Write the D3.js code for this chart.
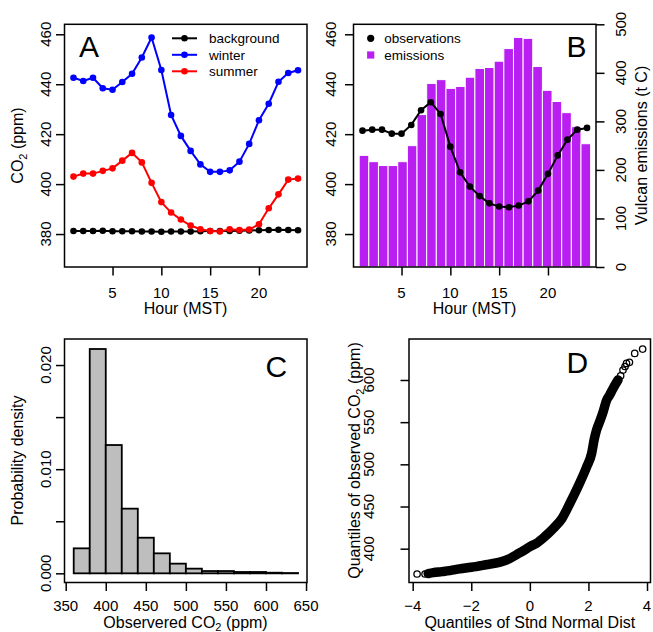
<!DOCTYPE html>
<html lang="en">
<head>
<meta charset="UTF-8">
<title>CO2 diurnal cycle panels</title>
<script src="https://d3js.org/d3.v7.min.js"></script>
<style>
  body { margin: 0; background: #fff; }
  svg text { font-family: "Liberation Sans", Arial, Helvetica, sans-serif; fill: #000; }
  .tick line { stroke: #000; stroke-width: 1.5; }
  .domain { display: none; }
</style>
</head>
<body>
<svg id="chart" width="653" height="632"></svg>
<script>
// ---- data ----
const hours = [1, 2, 3, 4, 5, 6, 7, 8, 9, 10, 11, 12, 13, 14, 15, 16, 17, 18, 19, 20, 21, 22, 23, 24];

// panel A, mean CO2 (ppm)
const background = [381.2, 381.2, 381.2, 381.3, 381.1, 381.1, 381.1, 381.0, 381.0, 380.9, 381.0, 381.0,
                    381.0, 381.1, 381.2, 381.2, 381.2, 381.3, 381.4, 381.5, 381.6, 381.7, 381.6, 381.5];
const winter = [442.6, 441.3, 442.6, 438.4, 437.8, 440.9, 444.2, 450.7, 458.7, 445.7, 427.7, 419.3,
                413.3, 407.9, 404.9, 404.9, 405.5, 409.0, 416.1, 425.6, 432.2, 441.0, 444.5, 445.6];
const summer = [403.0, 404.2, 404.2, 405.3, 406.3, 409.4, 412.5, 408.7, 400.5, 392.8, 388.6, 385.8,
                383.4, 381.9, 381.2, 381.0, 381.9, 381.6, 381.8, 383.9, 390.3, 395.9, 401.8, 402.2];

// panel B
const observations = [421.4, 421.8, 421.8, 420.2, 420.2, 423.7, 429.6, 432.8, 428.1, 415.0, 404.7, 399.0,
                      395.2, 392.3, 391.0, 390.7, 391.4, 393.1, 397.4, 404.1, 411.5, 417.8, 421.8, 422.5];
const emissions = [230, 217, 209, 209, 217, 250, 314, 378, 386, 368, 372, 391,
                   409, 411, 424, 450, 473, 471, 413, 364, 341, 318, 289, 254];

// panel C, histogram (bin edges and density)
const binStarts = [360, 380, 400, 420, 440, 460, 480, 500, 520, 540, 560, 580, 600, 620];
const binWidth = 20;
const density = [0.0024, 0.02154, 0.01232, 0.00621, 0.00342, 0.00192, 0.00093,
                 0.00045, 0.00022, 0.00022, 0.00013, 0.00013, 0.00006, 0.00003];

// panel D, normal Q-Q: dense part of the curve and the isolated tail points
const qqTheo = [-3.47, -3.3, -3.0, -2.73, -2.4, -2.0, -1.5, -1.02, -0.7, -0.45, -0.2, 0.0, 0.23, 0.5,
                0.8, 1.1, 1.37, 1.65, 1.94, 2.11, 2.2, 2.28, 2.4, 2.5, 2.62, 2.72, 2.84, 3.01];
const qqObs = [370.5, 371.6, 372.8, 374.0, 376.0, 378.0, 381.0, 384.0, 388.0, 393.0, 398.0, 402.4, 406.5, 414.0,
               424.0, 436.0, 454.0, 474.0, 497.0, 513.0, 530.0, 541.0, 552.0, 562.0, 576.0, 582.0, 590.0, 600.0];
const tailTheo = [-3.85, -3.58, 3.1, 3.18, 3.25, 3.3, 3.4, 3.58, 3.85];
const tailObs = [370.0, 370.0, 605.0, 611.7, 616.0, 619.7, 621.0, 631.5, 636.6];

const yTicksA = [380, 400, 420, 440, 460];
const hourTicks = [5, 10, 15, 20];
const emisTicks = [0, 100, 200, 300, 400, 500];
const xTicksC = [350, 400, 450, 500, 550, 600, 650];
const yTicksC = [0, 0.005, 0.01, 0.015, 0.02];
const xTicksD = [-4, -2, 0, 2, 4];
const yTicksD = [400, 450, 500, 550, 600];

// ---- drawing ----
const svg = d3.select("#chart");
const TICK = 8.5, FS_TICK = 15, FS_LAB = 16;

function box(x, y) {
    svg.append("rect")
        .attr("x", x.range()[0]).attr("y", y.range()[1])
        .attr("width", x.range()[1] - x.range()[0])
        .attr("height", y.range()[0] - y.range()[1])
        .attr("fill", "none").attr("stroke", "#000").attr("stroke-width", 1.5);
}

function tickMarks(axis, transform) {
    svg.append("g").attr("transform", transform)
        .call(axis.tickSize(TICK).tickFormat(""));
}

function xLabels(x, ticks, yBase, fmt) {
    svg.append("g").selectAll("text").data(ticks).join("text")
        .attr("x", d => x(d)).attr("y", yBase)
        .attr("text-anchor", "middle").attr("font-size", FS_TICK)
        .text(fmt || (d => d));
}

function yLabels(y, ticks, xBase, fmt) {
    svg.append("g").selectAll("text").data(ticks).join("text")
        .attr("transform", d => `translate(${xBase},${y(d)}) rotate(-90)`)
        .attr("text-anchor", "middle").attr("font-size", FS_TICK)
        .text(fmt || (d => d));
}

function vTitle(x, y, parts) {
    const t = svg.append("text")
        .attr("transform", `translate(${x},${y}) rotate(-90)`)
        .attr("text-anchor", "middle").attr("font-size", FS_LAB);
    addParts(t, parts);
}

function hTitle(x, y, parts) {
    const t = svg.append("text").attr("x", x).attr("y", y)
        .attr("text-anchor", "middle").attr("font-size", FS_LAB);
    addParts(t, parts);
}

// parts: array of strings, "_2" means subscript 2
function addParts(t, parts) {
    let shifted = false;
    parts.forEach(p => {
        if (p.startsWith("_")) {
            t.append("tspan").attr("font-size", 11).attr("dy", 3.5).text(p.slice(1));
            shifted = true;
        } else {
            const s = t.append("tspan").text(p);
            if (shifted) { s.attr("dy", -3.5); shifted = false; }
        }
    });
}

function letter(x, y, s) {
    svg.append("text").attr("x", x).attr("y", y).attr("font-size", 30).text(s);
}

function seriesLine(x, y, values, color) {
    const line = d3.line().x((d, i) => x(hours[i])).y(d => y(d));
    svg.append("path").datum(values)
        .attr("fill", "none").attr("stroke", color).attr("stroke-width", 2)
        .attr("d", line);
    svg.append("g").selectAll("circle").data(values).join("circle")
        .attr("cx", (d, i) => x(hours[i])).attr("cy", d => y(d))
        .attr("r", 3.3).attr("fill", color);
}

// Panel A
const xA = d3.scaleLinear().domain([0.08, 24.92]).range([64.5, 307]);
const yA = d3.scaleLinear().domain([366.8, 464.0]).range([267, 24.3]);

seriesLine(xA, yA, background, "#000");
seriesLine(xA, yA, winter, "#0000ff");
seriesLine(xA, yA, summer, "#ff0000");
box(xA, yA);
tickMarks(d3.axisBottom(xA).tickValues(hourTicks), `translate(0,267)`);
tickMarks(d3.axisLeft(yA).tickValues(yTicksA), `translate(64.5,0)`);
xLabels(xA, hourTicks, 298);
yLabels(yA, yTicksA, 50.5);
hTitle(185.5, 313.5, ["Hour (MST)"]);
vTitle(23, 145.5, ["CO", "_2", " (ppm)"]);
letter(79, 57.3, "A");

const legendA = [
    { name: "background", color: "#000" },
    { name: "winter", color: "#0000ff" },
    { name: "summer", color: "#ff0000" }
];
const legA = svg.append("g").selectAll("g").data(legendA).join("g")
    .attr("transform", (d, i) => `translate(172,${38.3 + i * 16.5})`);
legA.append("line").attr("x1", 0).attr("x2", 25).attr("stroke", d => d.color).attr("stroke-width", 2);
legA.append("circle").attr("cx", 12.5).attr("r", 3.3).attr("fill", d => d.color);
legA.append("text").attr("x", 37).attr("y", 4.8).attr("font-size", 13.5).text(d => d.name);

// Panel B
const xB = d3.scaleLinear().domain([0.08, 24.92]).range([353.5, 596]);
const yB = d3.scaleLinear().domain([366.8, 464.0]).range([267, 24.3]);
const yE = d3.scaleLinear().domain([0, 500]).range([267, 24.3]);
const xBar = d3.scaleBand().domain(hours).range([xB(0.66), xB(24.37)]).padding(0);

svg.append("g").selectAll("rect").data(emissions).join("rect")
    .attr("x", (d, i) => xBar(hours[i])).attr("width", xBar.bandwidth())
    .attr("y", d => yE(d)).attr("height", d => yE(0) - yE(d))
    .attr("fill", "#b91ff0").attr("stroke", "#fff").attr("stroke-width", 1);
seriesLine(xB, yB, observations, "#000");
box(xB, yB);
tickMarks(d3.axisBottom(xB).tickValues(hourTicks), `translate(0,267)`);
tickMarks(d3.axisLeft(yB).tickValues(yTicksA), `translate(353.5,0)`);
tickMarks(d3.axisRight(yE).tickValues(emisTicks), `translate(596,0)`);
xLabels(xB, hourTicks, 298);
yLabels(yB, yTicksA, 336);
yLabels(yE, emisTicks, 626);
hTitle(474.5, 313.5, ["Hour (MST)"]);
vTitle(646.5, 145.5, ["Vulcan emissions (t C)"]);
letter(566.5, 57.3, "B");

const legB = svg.append("g").attr("transform", "translate(370.7,38.3)");
legB.append("circle").attr("r", 3.6).attr("fill", "#000");
legB.append("rect").attr("x", -3.6).attr("y", 16.7 - 3.6).attr("width", 7.2).attr("height", 7.2).attr("fill", "#b91ff0");
legB.append("text").attr("x", 13.5).attr("y", 4.8).attr("font-size", 13.5).text("observations");
legB.append("text").attr("x", 13.5).attr("y", 21.5).attr("font-size", 13.5).text("emissions");

// Panel C
const xC = d3.scaleLinear().domain([348.5, 651.2]).range([64.5, 307]);
const yC = d3.scaleLinear().domain([-0.00088, 0.0225]).range([582.5, 339]);

svg.append("g").selectAll("rect").data(density).join("rect")
    .attr("x", (d, i) => xC(binStarts[i])).attr("width", (d, i) => xC(binStarts[i] + binWidth) - xC(binStarts[i]))
    .attr("y", d => yC(d)).attr("height", d => yC(0) - yC(d))
    .attr("fill", "#bebebe").attr("stroke", "#000").attr("stroke-width", 1.8);
box(xC, yC);
tickMarks(d3.axisBottom(xC).tickValues(xTicksC), `translate(0,582.5)`);
tickMarks(d3.axisLeft(yC).tickValues(yTicksC), `translate(64.5,0)`);
xLabels(xC, xTicksC, 610.5);
yLabels(yC, yTicksC.filter((d, i) => i % 2 === 0), 51, d3.format(".3f"));
hTitle(185.5, 627.5, ["Observered CO", "_2", " (ppm)"]);
vTitle(23, 460.5, ["Probability density"]);
letter(265.5, 376.5, "C");

// Panel D
const xD = d3.scaleLinear().domain([-4.126, 4.119]).range([409, 650.5]);
const yD = d3.scaleLinear().domain([359.9, 648.6]).range([582.5, 339]);

// the many overlapping open circles merge into a solid band
const qqLine = d3.line().curve(d3.curveMonotoneX)
    .x((d, i) => xD(qqTheo[i])).y(d => yD(d));
svg.append("path").datum(qqObs)
    .attr("fill", "none").attr("stroke", "#000").attr("stroke-width", 9.5)
    .attr("stroke-linecap", "round").attr("stroke-linejoin", "round")
    .attr("d", qqLine);
svg.append("g").selectAll("circle").data(tailObs).join("circle")
    .attr("cx", (d, i) => xD(tailTheo[i])).attr("cy", d => yD(d))
    .attr("r", 3.2).attr("fill", "none").attr("stroke", "#000").attr("stroke-width", 1.3);
box(xD, yD);
tickMarks(d3.axisBottom(xD).tickValues(xTicksD), `translate(0,582.5)`);
tickMarks(d3.axisLeft(yD).tickValues(yTicksD), `translate(409,0)`);
xLabels(xD, xTicksD, 610.5, d => d < 0 ? "\u2212" + Math.abs(d) : d);
yLabels(yD, yTicksD, 373.6);
hTitle(529.75, 627.5, ["Quantiles of Stnd Normal Dist"]);
vTitle(360, 460.5, ["Quantiles of observed CO", "_2", " (ppm)"]);
letter(566.5, 373, "D");
</script>
</body>
</html>
